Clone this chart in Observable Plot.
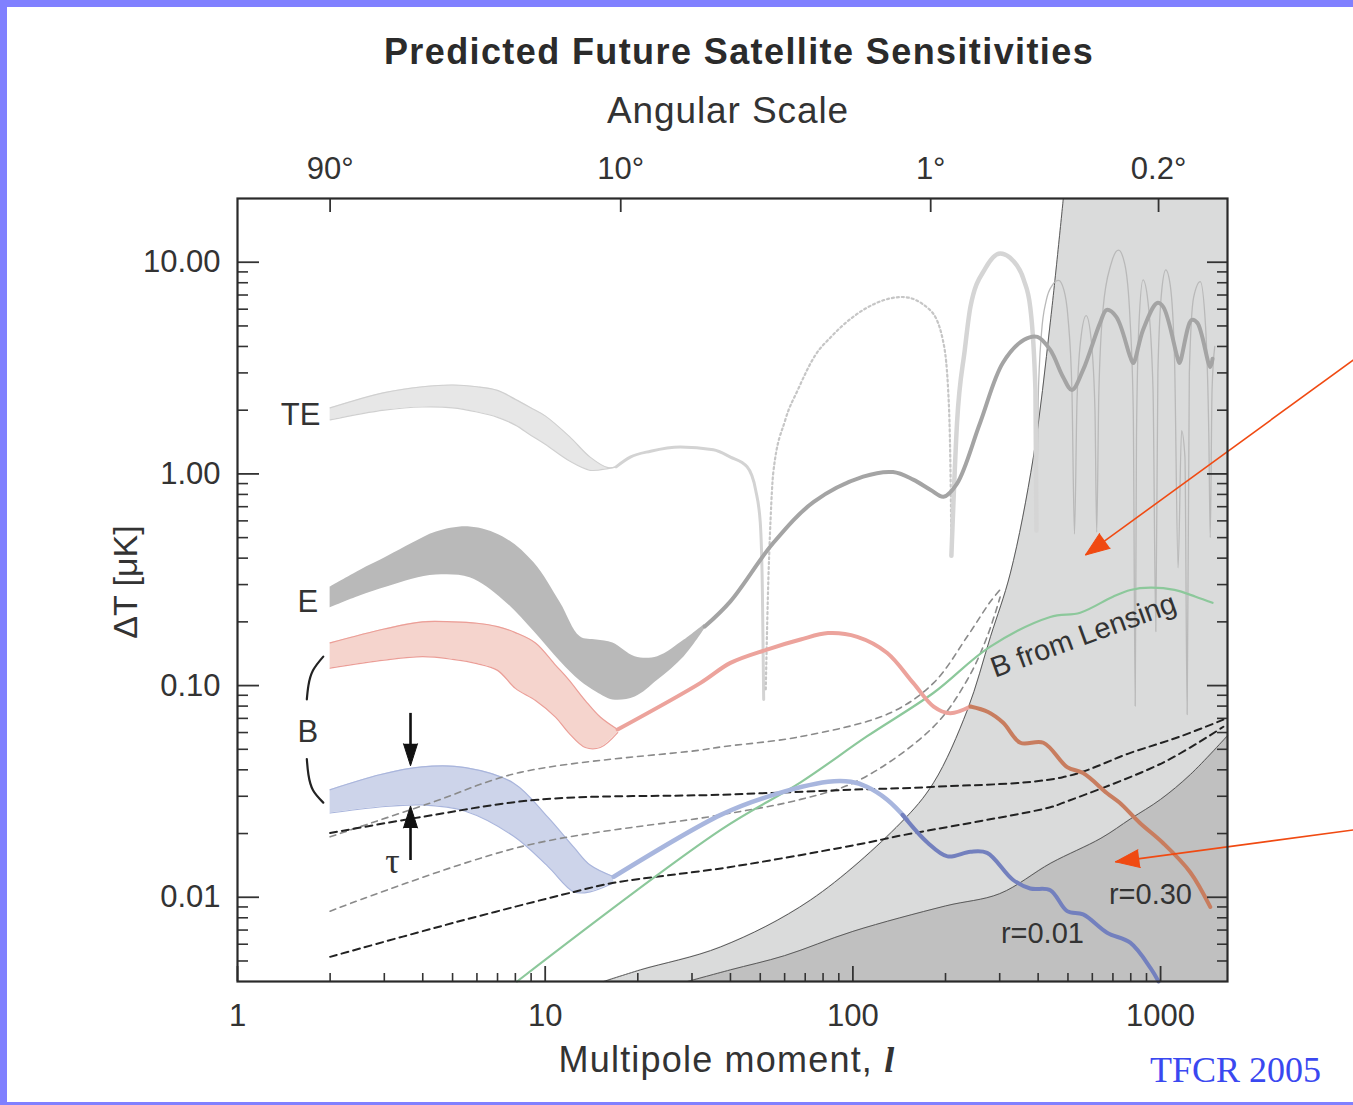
<!DOCTYPE html>
<html><head><meta charset="utf-8">
<script src="https://cdn.jsdelivr.net/npm/d3@7"></script>
<script src="https://cdn.jsdelivr.net/npm/@observablehq/plot@0.6"></script>
<style>
html,body{margin:0;padding:0;background:#fff;overflow:hidden}
#page{position:relative;width:1353px;height:1105px;font-family:'Liberation Sans',Arial,Helvetica,sans-serif;color:#333;background:#fff}
.ov{position:absolute;white-space:nowrap}
.bd{position:absolute;background:#8080ff}
</style></head><body>
<div id="page">
<div id="chart" style="position:absolute;left:0;top:0"></div>
<div class="ov" style="left:239px;width:1000px;top:34px;text-align:center;font-weight:bold;font-size:36px;line-height:36px;letter-spacing:1.4px;color:#2b2b2b">Predicted Future Satellite Sensitivities</div>
<div class="ov" style="left:228px;width:1000px;top:92px;text-align:center;font-size:37px;line-height:37px;letter-spacing:0.9px;color:#333">Angular Scale</div>
<div class="ov" style="left:227px;width:1000px;top:1042px;text-align:center;font-size:36px;line-height:36px;letter-spacing:1.2px;color:#333">Multipole moment, <span style="font-family:'Liberation Serif','Times New Roman',serif;font-style:italic;font-weight:bold">l</span></div>
<div class="ov" style="left:-25px;width:300px;top:565px;text-align:center;font-size:34px;line-height:34px;color:#333;transform:rotate(-90deg);transform-origin:150px 17px">ΔT [μK]</div>
<div class="ov" style="left:1150px;top:1052px;font-family:'Liberation Serif','Times New Roman',serif;font-size:36px;line-height:36px;color:#3a48f0">TFCR 2005</div>
<div class="bd" style="left:0;top:0;width:7px;height:1105px"></div>
<div class="bd" style="left:0;top:0;width:1353px;height:7px"></div>
<div class="bd" style="left:0;top:1102px;width:1353px;height:3px"></div>
</div>
<script>
// ---------- axes ----------
const xMajor = [1, 10, 100, 1000];
const xMajorLabels = ["1", "10", "100", "1000"];
const xMinor = [2,3,4,5,6,7,8,9,20,30,40,50,60,70,80,90,200,300,400,500,600,700,800,900];
const yMajor = [0.01, 0.1, 1, 10];
const yMajorLabels = ["0.01", "0.10", "1.00", "10.00"];
const yMinor = [0.005,0.006,0.007,0.008,0.009,0.02,0.03,0.04,0.05,0.06,0.07,0.08,0.09,0.2,0.3,0.4,0.5,0.6,0.7,0.8,0.9,2,3,4,5,6,7,8,9];
const angTicks = [2, 17.6, 179, 985];
const angLabels = ["90°", "10°", "1°", "0.2°"];
const xDomain = [1, 1650];
const yDomain = [0.004, 20];

// ---------- shaded regions (boundaries) ----------
const lightEdgeL = [15.5, 20.4, 37.2, 72.8, 142.8, 182.8, 235.7, 280, 325, 386, 438, 483];
const lightEdgeV = [0.004, 0.00454, 0.00583, 0.0097, 0.0224, 0.0347, 0.0768, 0.17, 0.34, 1.2, 5.17, 20];
const darkEdgeL = [29, 40, 60, 100, 200, 300, 440, 640, 800, 1000, 1250, 1650];
const darkEdgeV = [0.004, 0.00454, 0.0053, 0.0069, 0.0091, 0.0104, 0.0145, 0.019, 0.0235, 0.029, 0.038, 0.058];

// ---------- TE ----------
const teBandL = [2, 3, 4, 5, 6, 7, 8, 9, 10, 12, 14, 16, 17];
const teBandHi = [2.05, 2.42, 2.58, 2.63, 2.58, 2.48, 2.25, 2.05, 1.88, 1.5, 1.2, 1.07, 1.08];
const teBandLo = [1.80, 2.0, 2.07, 2.05, 1.96, 1.85, 1.7, 1.52, 1.38, 1.15, 1.04, 1.06, 1.08];
const teLineL = [17, 18.9, 22, 27.5, 35.2, 40, 45.3, 48.3, 50, 50.8, 51.3];
const teLineV = [1.08, 1.2, 1.28, 1.34, 1.3, 1.2, 1.08, 0.84, 0.59, 0.28, 0.086];
const teNegL = [52.1, 52.9, 54, 55.1, 60.3, 66.2, 75.6, 84.8, 108, 145, 178, 196, 204, 208, 209];
const teNegV = [0.096, 0.254, 0.606, 1.01, 1.8, 2.49, 3.65, 4.43, 5.95, 6.85, 5.95, 4.3, 2.49, 0.84, 0.41];
const tePeakL = [209, 218, 231, 241, 270, 301, 331, 359, 377, 392, 395];
const tePeakV = [0.41, 1.74, 3.85, 6.15, 9.4, 11.0, 10.2, 8.27, 6.15, 2.49, 0.54];
const teHighL = [395,400,410,425,445,466,485,500,515,525,535,550,573,595,612,620,630,650,690,730,765,795,815,827,835,850,877,910,945,965,980,1010,1040,1075,1110,1140,1170,1200,1220,1240,1280,1346,1400,1435,1450,1470,1500];
const teHighV = [0.54,2.2,4.6,6.6,7.8,8.2,7.4,5.5,2.5,0.52,2.2,4.3,5.6,4.3,2.0,0.53,2.4,6.0,9.8,11.4,9.8,5.5,2.0,0.08,1.5,5.0,8.25,6.5,2.5,0.18,3.0,7.5,9.2,7.8,3.5,0.36,1.6,1.2,0.073,3.0,6.8,8.1,5.0,1.5,0.5,2.5,4.0];

// ---------- E ----------
const eBandL = [2, 2.5, 3.06, 3.7, 4.43, 5.7, 7.3, 9.2, 11.2, 13, 14.7, 16.6, 19.6, 23.2, 28.3, 33];
const eBandHi = [0.292, 0.35, 0.406, 0.47, 0.532, 0.562, 0.504, 0.38, 0.246, 0.17, 0.164, 0.159, 0.137, 0.137, 0.164, 0.195];
const eBandLo = [0.233, 0.265, 0.292, 0.318, 0.333, 0.323, 0.254, 0.18, 0.13, 0.105, 0.093, 0.0856, 0.0884, 0.106, 0.137, 0.185];
const eLineL = [33, 40, 55, 74.6, 108, 135, 157, 179, 197, 218, 259, 307, 360, 398, 438, 482, 515, 560, 636, 668, 718, 797, 815, 877, 975, 1020, 1133, 1152, 1260, 1317, 1450, 1475];
const eLineV = [0.19, 0.25, 0.47, 0.737, 0.97, 1.02, 0.94, 0.84, 0.78, 0.9, 1.74, 3.34, 4.3, 4.44, 3.85, 2.87, 2.49, 3.1, 5.17, 5.95, 5.52, 3.57, 3.34, 4.79, 6.42, 6.15, 3.57, 3.34, 5.33, 5.17, 3.2, 3.5];

// ---------- B, r = 0.30 ----------
const bHiBandL = [2, 3, 4, 5, 6, 7, 8, 9.3, 10.8, 11.9, 13.5, 15.1, 17.2];
const bHiBandHi = [0.159, 0.185, 0.2, 0.2, 0.197, 0.19, 0.178, 0.159, 0.125, 0.107, 0.085, 0.071, 0.062];
const bHiBandLo = [0.121, 0.132, 0.137, 0.133, 0.127, 0.118, 0.097, 0.085, 0.071, 0.06, 0.051, 0.051, 0.06];
const bHiLineL = [17.2, 32, 40, 52.6, 67.6, 83, 103.3, 129, 157, 183, 207, 241];
const bHiLineV = [0.062, 0.103, 0.128, 0.148, 0.165, 0.177, 0.17, 0.143, 0.103, 0.0796, 0.074, 0.0796];
const bHiTailL = [241, 275, 308, 350, 416, 497, 560, 670, 735, 855, 1020, 1250, 1450];
const bHiTailV = [0.0796, 0.075, 0.0667, 0.0537, 0.0537, 0.0412, 0.0386, 0.031, 0.028, 0.0225, 0.018, 0.0131, 0.009];

// ---------- B, r = 0.01 ----------
const bLoBandL = [2, 2.9, 3.97, 5.5, 7.9, 10.2, 12.4, 14, 16.7];
const bLoBandHi = [0.0322, 0.0379, 0.0413, 0.041, 0.0346, 0.0239, 0.0172, 0.0142, 0.0125];
const bLoBandLo = [0.025, 0.0267, 0.0273, 0.0255, 0.0194, 0.014, 0.0106, 0.0106, 0.0117];
const bLoLineL = [16.7, 37.2, 52.6, 83, 98.5, 111, 129, 150];
const bLoLineV = [0.0125, 0.0245, 0.0298, 0.0351, 0.0351, 0.0333, 0.029, 0.0233];
const bLoTailL = [145, 175, 203, 241, 273, 331, 377, 438, 497, 560, 670, 797, 930, 985];
const bLoTailV = [0.0245, 0.0181, 0.0156, 0.0164, 0.0162, 0.0121, 0.011, 0.0108, 0.0086, 0.0083, 0.0068, 0.0061, 0.0046, 0.004];

// ---------- B from lensing ----------
const lensL = [8.1, 37.2, 67.6, 111, 183, 278, 438, 548, 700, 798, 928, 1110, 1300, 1475];
const lensV = [0.004, 0.0208, 0.0349, 0.0575, 0.0925, 0.152, 0.211, 0.221, 0.263, 0.283, 0.29, 0.283, 0.263, 0.246];

// ---------- noise curves (dashed) ----------
const noiseK1L = [2, 3.93, 9.45, 37.2, 98.5, 179, 481, 798, 1155, 1600];
const noiseK1V = [0.0201, 0.0239, 0.0289, 0.0305, 0.0322, 0.0332, 0.0369, 0.0481, 0.0574, 0.069];
const noiseK3L = [2, 5.03, 12.4, 16.7, 40, 111, 139, 438, 481, 1020, 1600];
const noiseK3V = [0.00523, 0.00757, 0.0106, 0.0117, 0.0139, 0.0181, 0.0194, 0.0266, 0.0279, 0.0433, 0.0639];
const noiseG1L = [2, 4.24, 8.3, 32, 37.2, 67.6, 132, 183, 235, 278, 301];
const noiseG1V = [0.0193, 0.0279, 0.0389, 0.0496, 0.0513, 0.0574, 0.0742, 0.103, 0.17, 0.246, 0.284];
const noiseG3L = [2, 8.3, 37.2, 67.6, 105, 183, 235, 273, 301];
const noiseG3V = [0.0086, 0.0173, 0.0245, 0.029, 0.0358, 0.064, 0.106, 0.17, 0.262];

// ---------- annotations ----------
const labelText = ["TE", "E", "B"];
const labelL = [1.86, 1.83, 1.83];
const labelV = [1.90, 0.248, 0.0604];
const bracketTopL = [1.9, 1.76, 1.70, 1.68];
const bracketTopV = [0.137, 0.118, 0.1, 0.086];
const bracketBotL = [1.68, 1.70, 1.76, 1.9];
const bracketBotV = [0.045, 0.038, 0.032, 0.028];
const tauL = 3.65;
const tauShaftV1 = [0.0743, 0.015];
const tauShaftV2 = [0.048, 0.024];
const tauTipV = [0.0418, 0.027];
const tauTipRot = [180, 0];
const tauLabel = {t: "τ", l: 3.19, v: 0.0147};
const lensLabel = {t: "B from Lensing", l: 561, v: 0.172};
const rLabels = [{t: "r=0.30", l: 927, v: 0.01026}, {t: "r=0.01", l: 413, v: 0.00671}];
const pointerFromL = [4236, 4236];
const pointerFromV = [3.46, 0.0208];
const pointerTipL = [570, 713];
const pointerTipV = [0.414, 0.0147];
const pointerRot = [234, 262.4];

// ---------- build ----------
const zip = (ls, vs) => ls.map((l, i) => ({l, v: vs[i]}));
const band = (ls, lo, hi) => ls.map((l, i) => ({l, lo: lo[i], hi: hi[i]}));
const xLab = new Map(xMajor.map((d, i) => [d, xMajorLabels[i]]));
const yLab = new Map(yMajor.map((d, i) => [d, yMajorLabels[i]]));
const aLab = new Map(angTicks.map((d, i) => [d, angLabels[i]]));

const W = 1353, H = 1105, mL = 237, mR = 126, mT = 198, mB = 124;
const pw = W - mL - mR, ph = H - mT - mB;

const lightEdge = zip(lightEdgeL, lightEdgeV);
const darkEdge = zip(darkEdgeL, darkEdgeV);
const teBand = band(teBandL, teBandLo, teBandHi);
const eBand = band(eBandL, eBandLo, eBandHi);
const bHiBand = band(bHiBandL, bHiBandLo, bHiBandHi);
const bLoBand = band(bLoBandL, bLoBandLo, bLoBandHi);

const S = "catmull-rom", M = "monotone-x";
function bandMarks(data, fill, edge) {
  return [
    Plot.areaY(data, {x: "l", y1: "lo", y2: "hi", fill, curve: S}),
    edge ? Plot.line(data, {x: "l", y: "hi", stroke: edge, strokeWidth: 1.2, curve: S}) : null,
    edge ? Plot.line(data, {x: "l", y: "lo", stroke: edge, strokeWidth: 1.2, curve: S}) : null
  ];
}
const ln = (ls, vs, o) => Plot.line(zip(ls, vs), {x: "l", y: "v", curve: S, ...o});

const tauShafts = tauShaftV1.map((v1, i) => ({l: tauL, v1, v2: tauShaftV2[i]}));
const tauTips = tauTipV.map((v, i) => ({l: tauL, v, r: tauTipRot[i]}));
const pointers = pointerFromL.map((l, i) => ({l1: l, v1: pointerFromV[i], l2: pointerTipL[i], v2: pointerTipV[i], r: pointerRot[i]}));
const labels = labelText.map((t, i) => ({t, l: labelL[i], v: labelV[i]}));

const plot = Plot.plot({
  width: W, height: H,
  marginLeft: mL, marginRight: mR, marginTop: mT, marginBottom: mB,
  x: {type: "log", domain: xDomain},
  y: {type: "log", domain: yDomain},
  style: {fontFamily: "'Liberation Sans', Arial, Helvetica, sans-serif", fontSize: "31px", color: "#333", background: "transparent", overflow: "visible"},
  marks: [
    // shaded regions
    Plot.areaX(lightEdge, {y: "v", x1: "l", x2: xDomain[1], fill: "#dadbdb", curve: S}),
    Plot.areaY(darkEdge, {x: "l", y1: yDomain[0], y2: "v", fill: "#c0c0c0", curve: S}),
    Plot.line(lightEdge, {x: "l", y: "v", stroke: "#5a5a5a", strokeWidth: 1, curve: S}),
    Plot.line(darkEdge, {x: "l", y: "v", stroke: "#5a5a5a", strokeWidth: 1, curve: S}),
    // TE
    ...bandMarks(teBand, "#e7e7e7", "#d0d0d0"),
    ln(teLineL, teLineV, {stroke: "#d3d3d3", strokeWidth: 3, curve: M}),
    ln(teNegL, teNegV, {stroke: "#c6c6c6", strokeWidth: 2.2, strokeDasharray: "2,3", curve: M}),
    ln(teHighL, teHighV, {stroke: "#b9b9b9", strokeWidth: 1.3, curve: M}),
    ln(tePeakL, tePeakV, {stroke: "#d5d5d5", strokeWidth: 4.5, curve: M}),
    // B bands
    ...bandMarks(bHiBand, "#f5d4cd", "#eb9e97"),
    ...bandMarks(eBand, "#b9b9b9", null),
    ...bandMarks(bLoBand, "#cdd4ea", "#a9b5dc"),
    // E line
    ln(eLineL, eLineV, {stroke: "#a4a4a4", strokeWidth: 4}),
    // noise curves
    ln(noiseG1L, noiseG1V, {stroke: "#8a8a8a", strokeWidth: 1.6, strokeDasharray: "6,5"}),
    ln(noiseG3L, noiseG3V, {stroke: "#8a8a8a", strokeWidth: 1.6, strokeDasharray: "6,5"}),
    ln(noiseK1L, noiseK1V, {stroke: "#222", strokeWidth: 2, strokeDasharray: "7,5"}),
    ln(noiseK3L, noiseK3V, {stroke: "#222", strokeWidth: 2, strokeDasharray: "7,5"}),
    // lensing
    ln(lensL, lensV, {stroke: "#8cc89b", strokeWidth: 2.2}),
    // B lines
    ln(bHiLineL, bHiLineV, {stroke: "#eca39c", strokeWidth: 4}),
    ln(bHiTailL, bHiTailV, {stroke: "#c87d5f", strokeWidth: 4}),
    ln(bLoLineL, bLoLineV, {stroke: "#a8b6de", strokeWidth: 4.5}),
    ln(bLoTailL, bLoTailV, {stroke: "#7380be", strokeWidth: 4}),
    // annotations
    Plot.text(labels, {x: "l", y: "v", text: "t", textAnchor: "end", fill: "#333", fontSize: 31}),
    Plot.line(zip(bracketTopL, bracketTopV), {x: "l", y: "v", stroke: "#222", strokeWidth: 2.2, curve: "natural"}),
    Plot.line(zip(bracketBotL, bracketBotV), {x: "l", y: "v", stroke: "#222", strokeWidth: 2.2, curve: "natural"}),
    Plot.link(tauShafts, {x1: "l", x2: "l", y1: "v1", y2: "v2", stroke: "#111", strokeWidth: 2.6}),
    Plot.vector(tauTips, {x: "l", y: "v", rotate: "r", shape: "spike", anchor: "end", length: 22, r: 7, fill: "#111", stroke: "#111", strokeWidth: 1}),
    Plot.text([tauLabel], {x: "l", y: "v", text: "t", fontFamily: "'Liberation Serif', 'Times New Roman', serif", fontSize: 36, fill: "#333"}),
    Plot.text([lensLabel], {x: "l", y: "v", text: "t", rotate: -20, fontSize: 29, fill: "#333"}),
    Plot.text(rLabels, {x: "l", y: "v", text: "t", fontSize: 29, fill: "#333"}),
    Plot.link(pointers, {x1: "l1", y1: "v1", x2: "l2", y2: "v2", stroke: "#f04a12", strokeWidth: 1.6}),
    Plot.vector(pointers, {x: "l2", y: "v2", rotate: "r", shape: "spike", anchor: "end", length: 24, r: 9, fill: "#f04a12", stroke: "#f04a12", strokeWidth: 1}),
    // ticks (inward)
    Plot.tickX(xMajor, {x: d => d, insetTop: ph - 15, stroke: "#333", strokeWidth: 1.8}),
    Plot.tickX(xMinor, {x: d => d, insetTop: ph - 8, stroke: "#333", strokeWidth: 1.6}),
    Plot.tickX(angTicks, {x: d => d, insetBottom: ph - 14, stroke: "#333", strokeWidth: 1.8}),
    Plot.tickY(yMajor, {y: d => d, insetRight: pw - 22, stroke: "#333", strokeWidth: 1.8}),
    Plot.tickY(yMinor, {y: d => d, insetRight: pw - 11, stroke: "#333", strokeWidth: 1.6}),
    Plot.tickY(yMajor, {y: d => d, insetLeft: pw - 20, stroke: "#333", strokeWidth: 1.8}),
    Plot.tickY(yMinor, {y: d => d, insetLeft: pw - 10, stroke: "#333", strokeWidth: 1.6}),
    Plot.frame({stroke: "#2a2a2a", strokeWidth: 2.2}),
    // axis labels
    Plot.axisX({anchor: "bottom", ticks: xMajor, tickFormat: d => xLab.get(d), tickSize: 0, tickPadding: 22, label: null}),
    Plot.axisX({anchor: "top", ticks: angTicks, tickFormat: d => aLab.get(d), tickSize: 0, tickPadding: 20, label: null}),
    Plot.axisY({anchor: "left", ticks: yMajor, tickFormat: d => yLab.get(d), tickSize: 0, tickPadding: 17, label: null})
  ]
});
document.getElementById("chart").appendChild(plot);
</script>
</body></html>
